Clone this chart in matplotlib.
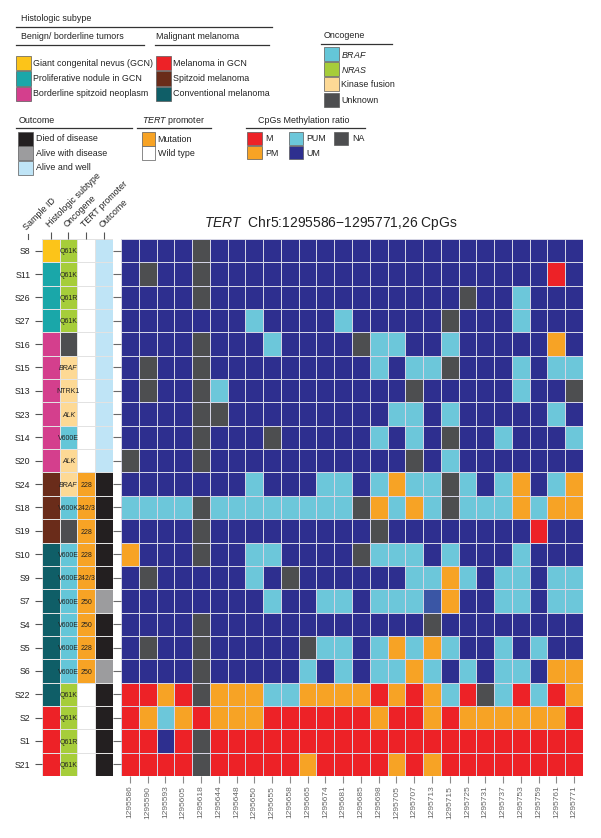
import numpy as np
import matplotlib
matplotlib.use("Agg")
import matplotlib.pyplot as plt
from matplotlib import patches
from matplotlib.colors import ListedColormap

plt.rcParams['font.family'] = ['Liberation Sans', 'DejaVu Sans']
plt.rcParams['mathtext.fontset'] = 'custom'
plt.rcParams['mathtext.rm'] = 'Liberation Sans'
plt.rcParams['mathtext.it'] = 'Liberation Sans:italic'

W, H = 601, 838

# ========== data ==========
SAMPLES = ["S8", "S11", "S26", "S27", "S16", "S15", "S13", "S23", "S14", "S20",
           "S24", "S18", "S19", "S10", "S9", "S7", "S4", "S5", "S6", "S22",
           "S2", "S1", "S21"]
HISTOLOGY = ["GCN", "PN", "PN", "PN", "BSN", "BSN", "BSN", "BSN", "BSN", "BSN",
             "SM", "SM", "SM", "CM", "CM", "CM", "CM", "CM", "CM", "CM",
             "MGCN", "MGCN", "MGCN"]
ONCOGENE = ["NRAS", "NRAS", "NRAS", "NRAS", "Unknown", "Fusion", "Fusion", "Fusion", "BRAF", "Fusion",
            "Fusion", "BRAF", "Unknown", "BRAF", "BRAF", "BRAF", "BRAF", "BRAF", "BRAF", "NRAS",
            "NRAS", "NRAS", "NRAS"]
ONCO_TEXT = ["Q61K", "Q61K", "Q61R", "Q61K", "", "BRAF", "NTRK1", "ALK", "V600E", "ALK",
             "BRAF", "V600K", "", "V600E", "V600E", "V600E", "V600E", "V600E", "V600E", "Q61K",
             "Q61K", "Q61R", "Q61K"]
TERT = ["WT"] * 10 + ["Mut"] * 9 + ["WT"] * 4
TERT_TEXT = [""] * 10 + ["228", "242/3", "228", "228", "242/3", "250", "250", "228", "250"] + [""] * 4
OUTCOME = ["AW"] * 10 + ["DOD"] * 5 + ["AWD", "DOD", "DOD", "AWD"] + ["DOD"] * 4

CPG_POS = ["1295586", "1295590", "1295593", "1295605", "1295618", "1295644", "1295648",
           "1295650", "1295655", "1295658", "1295665", "1295674", "1295681", "1295685",
           "1295698", "1295705", "1295707", "1295713", "1295715", "1295725", "1295731",
           "1295737", "1295753", "1295759", "1295761", "1295771"]

# U=UM, L=PUM, O=PM, M=M, N=NA, B=odd mid-blue cell
METHYL = [
    "UUUUNUUUUUUUUUUUUUUUUUUUUU",  # S8
    "UNUUNUUUUUUUUUUUUUUUUUUUMU",  # S11
    "UUUUNUUUUUUUUUUUUUUNUULUUU",  # S26
    "UUUUUUULUUUULUUUUUNUUULUUU",  # S27
    "UUUUNUUULUUUUNLLUULUUUUUOU",  # S16
    "UNUUNUUUUUUUUULULLNUUULULL",  # S15
    "UNUUNLUUUUUUUUUUNUUUUULUUN",  # S13
    "UUUUNNUUUUUUUUULLULUUUUULU",  # S23
    "UUUUNUUUNUUUUULULUNUULUUUL",  # S14
    "NUUUNUUUUUUUUUUUNULUUUUUUU",  # S20
    "UUUUUUULUUULLULOLLNLULOULO",  # S24
    "LLLLNLLLLLLLLNOLOLNLLLOLOO",  # S18
    "UUUUNUUUUUUUUUNUUUUUUUUMUU",  # S19
    "OUUUNUULLUUUUNLLLULUUULUUU",  # S10
    "UNUUUUULUNUUUUUULLOLULLULL",  # S9
    "UUUUUUUULUULLULLLBOUULLULL",  # S7
    "UUUUNUUUUUUUUUUUUNUUUUUUUU",  # S4
    "UNUUNUUUUUNLLULOLOLUULULUU",  # S5
    "UUUUNUUUUULULULLOLULULLUOO",  # S6
    "MMOMNOOOLLOOOOMOMOLMNLMLMO",  # S22
    "MOLOMOOOMMMMMMOMMOMOOOOOOM",  # S2
    "MMUMNMMMMMMMMMMMMMMMMMMMMM",  # S1
    "MMMMNMMMMMOMMMMOMOMMMMMMMM",  # S21
]

# ========== colours ==========
HIST_COLORS = {"GCN": "#fcc419", "PN": "#1aa7a9", "BSN": "#d43f8d",
               "MGCN": "#ed2227", "SM": "#6a2c1a", "CM": "#0f5e67"}
ONCO_COLORS = {"BRAF": "#64c6d8", "NRAS": "#a6cd3a", "Fusion": "#fdd995", "Unknown": "#4d4e50"}
TERT_COLORS = {"Mut": "#f7a325", "WT": "#ffffff"}
OUT_COLORS = {"DOD": "#231f20", "AWD": "#9c9c9e", "AW": "#bfe4f6"}
METH_CODES = ["U", "L", "O", "M", "N", "B"]
METH_COLORS = ["#2e2f8f", "#6cc7da", "#f7a325", "#ed2227", "#4d4e50", "#3a56a5"]

GRID_COL = "#d4d4e4"


def px_rect(x0, y0, x1, y1):
    """pixel box (top-left origin) -> figure fraction rect"""
    return [x0 / W, 1 - y1 / H, (x1 - x0) / W, (y1 - y0) / H]


fig = plt.figure(figsize=(W / 100, H / 100), dpi=100)

n_rows = len(SAMPLES)
n_cols = len(CPG_POS)

# ========== heatmap ==========
ax = fig.add_axes(px_rect(121, 239, 583, 776))
codes = np.array([[METH_CODES.index(c) for c in row] for row in METHYL])
ax.pcolormesh(np.arange(n_cols + 1), np.arange(n_rows + 1), codes,
              cmap=ListedColormap(METH_COLORS), vmin=-0.5, vmax=len(METH_CODES) - 0.5,
              edgecolors=GRID_COL, linewidth=0.7)
ax.set_xlim(0, n_cols)
ax.set_ylim(n_rows, 0)
ax.set_xticks(np.arange(n_cols) + 0.5)
ax.set_xticklabels(CPG_POS, rotation=90)
ax.set_yticks(np.arange(n_rows) + 0.5)
ax.set_yticklabels([])
ax.tick_params(axis='x', length=5, width=0.8, color='#8a8a8a', labelcolor='#666666',
               labelsize=6, pad=2)
ax.tick_params(axis='y', length=6, width=0.8, color='#6a6a6a')
for s in ax.spines.values():
    s.set_visible(False)

fig.text(331 / W, 1 - 223 / H, r"$\it{TERT}$  Chr5:1295586$-$1295771,26 CpGs",
         ha='center', va='center', fontsize=10, color='#222222')

# ========== annotation columns ==========
ann = fig.add_axes(px_rect(41.7, 239, 113, 776))
palette = []
keys = []
for tag, d in (("h", HIST_COLORS), ("o", ONCO_COLORS), ("t", TERT_COLORS), ("c", OUT_COLORS)):
    for k, v in d.items():
        keys.append((tag, k))
        palette.append(v)
ann_idx = np.array([[keys.index(("h", HISTOLOGY[i])), keys.index(("o", ONCOGENE[i])),
                     keys.index(("t", TERT[i])), keys.index(("c", OUTCOME[i]))]
                    for i in range(n_rows)])
ann.pcolormesh(np.arange(5), np.arange(n_rows + 1), ann_idx,
               cmap=ListedColormap(palette), vmin=-0.5, vmax=len(palette) - 0.5,
               edgecolors='#e2e2e2', linewidth=0.6)
ann.set_xlim(0, 4)
ann.set_ylim(n_rows, 0)

narrow = ['Liberation Sans Narrow', 'Liberation Sans', 'DejaVu Sans']
for i in range(n_rows):
    if ONCO_TEXT[i]:
        style = 'italic' if ONCO_TEXT[i] in ("BRAF", "ALK") else 'normal'
        ann.text(1.5, i + 0.55, ONCO_TEXT[i], ha='center', va='center', fontsize=5,
                 family=narrow, style=style, color='#222222')
    if TERT_TEXT[i]:
        ann.text(2.5, i + 0.55, TERT_TEXT[i], ha='center', va='center', fontsize=5,
                 family=narrow, color='#222222')

ann.set_yticks(np.arange(n_rows) + 0.5)
ann.set_yticklabels(SAMPLES)
ann.tick_params(axis='y', length=5, width=0.8, color='#555555', labelsize=6.3, pad=3,
                labelcolor='#222222')
ann.xaxis.tick_top()
ann.set_xticks(np.arange(4) + 0.5)
ann.set_xticklabels(["Histologic subtype", "Oncogene", "TERT promoter", "Outcome"],
                    rotation=45, ha='left', va='bottom', rotation_mode='anchor')
ann.tick_params(axis='x', length=5, width=0.8, color='#555555', labelsize=6.4, pad=2,
                labelcolor='#222222')
for s in ann.spines.values():
    s.set_visible(False)

# Sample ID header sits over the row labels
sx = -0.77
ann.plot([sx, sx], [0, -0.22], color='#555555', lw=0.8, clip_on=False)
ann.text(sx, -0.3, "Sample ID", rotation=45, ha='left', va='bottom',
         rotation_mode='anchor', fontsize=6.4, color='#222222', clip_on=False)

# ========== legends (pixel coordinates) ==========
lg = fig.add_axes([0, 0, 1, 1], zorder=-1)
lg.set_xlim(0, W)
lg.set_ylim(H, 0)
lg.axis('off')
FS = 6.4


def header(x, y, text, x0, x1, ly):
    lg.text(x, y, text, fontsize=FS, va='center', ha='left', color='#222222')
    lg.plot([x0, x1], [ly, ly], color='#333333', lw=0.9)


def swatch(x, y, w, h, color, label=None, tx=None, ty=None):
    lg.add_patch(patches.Rectangle((x, y), w, h, facecolor=color,
                                   edgecolor='#5a5a5a', lw=0.5))
    if label:
        lg.text(tx, ty, label, fontsize=FS, va='center', ha='left', color='#222222')


header(21, 18.3, "Histologic subype", 16, 272, 27.3)
header(21, 36.3, "Benign/ borderline tumors", 16, 144, 45)
header(155.7, 36.3, "Malignant melanoma", 155, 269, 45)
left_hist = [("GCN", "Giant congenital nevus (GCN)"), ("PN", "Proliferative nodule in GCN"),
             ("BSN", "Borderline spitzoid neoplasm")]
right_hist = [("MGCN", "Melanoma in GCN"), ("SM", "Spitzoid melanoma"),
              ("CM", "Conventional melanoma")]
for k, (key, lab) in enumerate(left_hist):
    y0 = 56 + k * 15.3
    swatch(16, y0, 15, 14.5, HIST_COLORS[key], lab, 33, y0 + 7.3)
for k, (key, lab) in enumerate(right_hist):
    y0 = 56 + k * 15.3
    swatch(155.7, y0, 15, 14.5, HIST_COLORS[key], lab, 173, y0 + 7.3)

header(324, 36, "Oncogene", 320.7, 392.3, 43.7)
onco_items = [("BRAF", r"$\it{BRAF}$"), ("NRAS", r"$\it{NRAS}$"),
              ("Fusion", "Kinase fusion"), ("Unknown", "Unknown")]
for k, (key, lab) in enumerate(onco_items):
    y0 = 46.7 + k * 15.3
    swatch(324, y0, 15, 14, ONCO_COLORS[key], lab, 341, y0 + 7.5)

header(19, 120.7, "Outcome", 16, 132, 127.7)
out_items = [("DOD", "Died of disease"), ("AWD", "Alive with disease"), ("AW", "Alive and well")]
for k, (key, lab) in enumerate(out_items):
    y0 = 131.7 + k * 14.6
    swatch(18.3, y0, 15, 14, OUT_COLORS[key], lab, 36, y0 + 7)

header(142.3, 120.7, r"$\it{TERT}$ promoter", 137.3, 210.7, 127.7)
swatch(141.7, 131.7, 13.5, 14, TERT_COLORS["Mut"], "Mutation", 157.7, 139)
swatch(141.7, 146.2, 13.5, 14, TERT_COLORS["WT"], "Wild type", 157.7, 153.7)

header(258.3, 120.7, "CpGs Methylation ratio", 246, 365, 128.3)
swatch(247.3, 131.7, 14.4, 13.5, METH_COLORS[3], "M", 265, 138.3)
swatch(247.3, 146, 14.4, 13.5, METH_COLORS[2], "PM", 265, 153.3)
swatch(289, 131.7, 13.7, 13.5, METH_COLORS[1], "PUM", 306, 138.3)
swatch(289, 146, 13.7, 13.5, METH_COLORS[0], "UM", 306, 153.3)
swatch(334, 131.7, 14.3, 13.5, METH_COLORS[4], "NA", 352, 138.3)

fig.savefig("out.png", dpi=100)
